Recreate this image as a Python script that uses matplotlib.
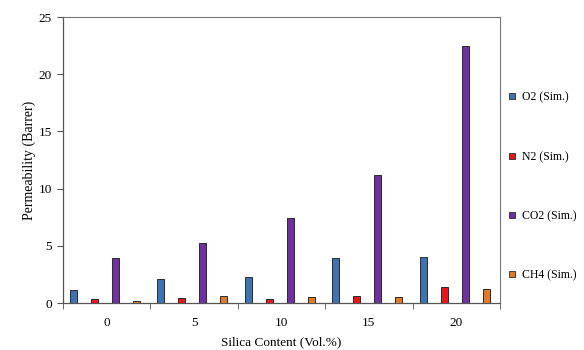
import matplotlib
matplotlib.use("Agg")
import matplotlib.pyplot as plt
from matplotlib.lines import Line2D
import numpy as np

categories = ["0", "5", "10", "15", "20"]
series = ["O2 (Sim.)", "N2 (Sim.)", "CO2 (Sim.)", "CH4 (Sim.)"]
o2 = [1.17, 2.07, 2.31, 3.93, 4.06]
n2 = [0.32, 0.44, 0.38, 0.61, 1.43]
co2 = [3.93, 5.22, 7.4, 11.2, 22.46]
ch4 = [0.17, 0.59, 0.52, 0.52, 1.26]
values = [o2, n2, co2, ch4]
colors = ["#3f72b0", "#e8151f", "#7030a0", "#e07a26"]

plt.rcParams['font.family'] = ['Liberation Serif', 'DejaVu Serif']

fig = plt.figure(figsize=(5.84, 3.5), dpi=100)
ax = fig.add_axes([63/584, 1-303/350, (500-63)/584, (303-17)/350])

x = np.arange(len(categories))
w = 0.08
offsets = [-0.38, -0.14, 0.10, 0.34]
for vals, c, off, lab in zip(values, colors, offsets, series):
    ax.bar(x + off, vals, width=w, color=c, edgecolor="#2a2a2a", linewidth=0.7, label=lab, zorder=3)
    # empty companion series drawn as flat baseline segment
    ax.bar(x + off + w, np.zeros(len(x)), width=w, color=c, edgecolor="#2a2a2a", linewidth=0.7, zorder=3)

ax.set_xlim(-0.5, len(categories) - 0.5)
ax.set_ylim(0, 25)
ax.set_yticks([0, 5, 10, 15, 20, 25])
ax.set_xticks(x)
ax.set_xticklabels(categories)
ax.set_xticks(np.arange(-0.5, len(categories), 1.0), minor=True)
ax.tick_params(axis='x', which='major', length=0, pad=10, labelsize=9.5)
ax.tick_params(axis='x', which='minor', length=4, color="#555555")
ax.tick_params(axis='y', length=4, color="#555555", labelsize=9.5, pad=4)

for s in ["top", "right"]:
    ax.spines[s].set_color("#777777")
    ax.spines[s].set_linewidth(0.8)
for s in ["left", "bottom"]:
    ax.spines[s].set_color("#555555")
    ax.spines[s].set_linewidth(0.9)

ax.set_ylabel("Permeability (Barrer)", fontsize=10, labelpad=2)
ax.set_xlabel("Silica Content (Vol.%)", fontsize=9.5, labelpad=5.5)

handles = [Line2D([0], [0], marker='s', linestyle='none', markersize=5,
                  markerfacecolor=c, markeredgecolor="#2a2a2a", markeredgewidth=0.6) for c in colors]
fig.legend(handles, series, loc='upper left', bbox_to_anchor=(497/584, 1-81/350),
           frameon=False, fontsize=8.5, labelspacing=4.0, handlelength=0.8, handletextpad=0.4)

fig.savefig("out.png", dpi=100)
